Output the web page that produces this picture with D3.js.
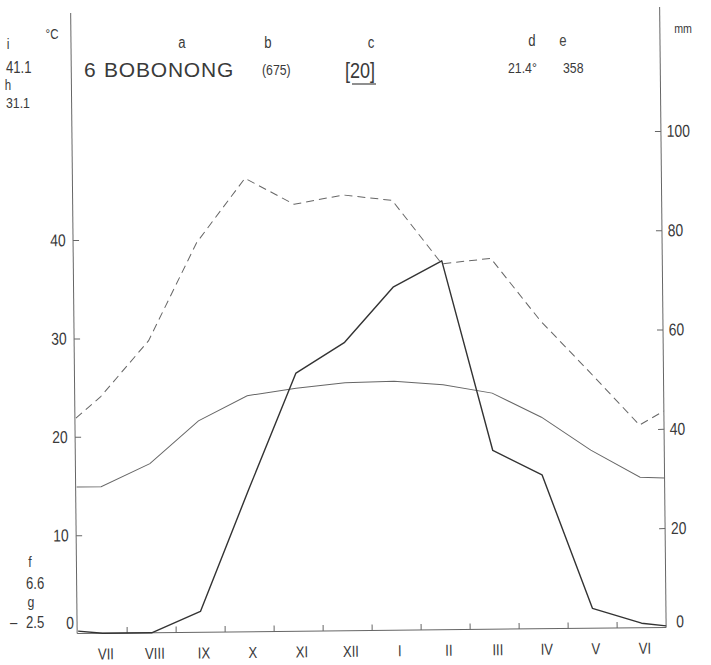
<!DOCTYPE html>
<html><head><meta charset="utf-8">
<script src="https://cdn.jsdelivr.net/npm/d3@7"></script>
<style>body{margin:0;background:#fff}</style>
</head><body>
<svg id="c" width="711" height="665"></svg>
<script>
// ---- data ----
const months = ["VII","VIII","IX","X","XI","XII","I","II","III","IV","V","VI"];
const meanTemp = [14.9,17.2,21.5,24.0,24.7,25.2,25.3,24.9,24.0,21.5,18.1,15.3];
const meanTempEdges = [14.9,15.2];
const dashedCurve = [24.0,29.7,39.6,46.1,43.4,44.3,43.7,37.2,37.7,31.3,26.0,20.6];
const dashedCurveEdges = [21.9,22.0];
const precip = [0,0,4.2,28.4,52.0,58.1,69.1,74.3,36.0,31.0,4.0,0.9];
const precipEdges = [0.5,0.3];
const tempTicks = [10,20,30,40];
const precipTicks = [20,40,60,80,100];

const FONT = "'Liberation Sans', Arial, sans-serif";
const SX = 0.82;
const INK = "#3a3a3a";
const svg = d3.select("#c");

function label(sel, x, y, s, size, anchor, opts){
  opts = opts || {};
  const t = sel.append("text")
    .attr("transform", `translate(${x},${y}) scale(${opts.sx ?? SX},1)`)
    .attr("text-anchor", anchor || "start")
    .attr("dy", "0.35em")
    .attr("font-size", size)
    .attr("font-family", FONT)
    .attr("fill", opts.fill || INK)
    .text(s);
  if (opts.ls) t.attr("letter-spacing", opts.ls);
  return t;
}

// ---- plot (scan is slightly rotated) ----
const g = svg.append("g").attr("transform", "rotate(-0.6,370,330)");
const x = d3.scaleBand().domain(months).range([75, 663]);
const xc = m => x(m) + x.bandwidth()/2;
const yT = d3.scaleLinear().domain([0,40]).range([630.5,237]);
const yP = d3.scaleLinear().domain([0,100]).range([630.5,134]);
const [x0, x1] = x.range();
const base = yT(0);
const AX = "#666";

// axes lines
g.append("line").attr("x1",74).attr("x2",74).attr("y1",10).attr("y2",base).attr("stroke",AX).attr("stroke-width",1);
g.append("line").attr("x1",663).attr("x2",663).attr("y1",10).attr("y2",base).attr("stroke",AX).attr("stroke-width",1);
g.append("line").attr("x1",74).attr("x2",663).attr("y1",base).attr("y2",base).attr("stroke",AX).attr("stroke-width",1);

// left temperature axis
const axL = g.append("g").attr("transform","translate(74,0)")
  .call(d3.axisLeft(yT).tickValues(tempTicks).tickSizeInner(-6).tickSizeOuter(0).tickPadding(9));
axL.select(".domain").remove();
axL.selectAll("line").attr("stroke",AX);
axL.selectAll("text").attr("font-size",17).attr("font-family",FONT).attr("fill",INK)
  .attr("transform",`scale(${SX},1)`);
label(g, 71, base-11, "0", 17, "end");

// right precipitation axis
const axR = g.append("g").attr("transform","translate(663,0)")
  .call(d3.axisRight(yP).tickValues(precipTicks).tickSizeInner(-6).tickSizeOuter(0).tickPadding(7));
axR.select(".domain").remove();
axR.selectAll("line").attr("stroke",AX);
axR.selectAll("text").attr("font-size",17).attr("font-family",FONT).attr("fill",INK)
  .attr("transform",`scale(${SX},1)`);
label(g, 673, base-6, "0", 17, "start");

// bottom month axis
g.selectAll(".mtick").data(months.slice(1)).join("line").attr("class","mtick")
  .attr("x1", m => x(m)).attr("x2", m => x(m)).attr("y1", base).attr("y2", base-6)
  .attr("stroke",AX);
months.forEach(m => label(g, xc(m)+3, 651, m, 16, "middle"));

// series lines
function pts(vals, edges, sc){
  return [[x0, sc(edges[0])], ...months.map((m,i)=>[xc(m), sc(vals[i])]), [x1, sc(edges[1])]];
}
const line = d3.line();
g.append("path").attr("d", line(pts(dashedCurve, dashedCurveEdges, yT)))
  .attr("fill","none").attr("stroke","#666").attr("stroke-width",1).attr("stroke-dasharray","8,5");
g.append("path").attr("d", line(pts(meanTemp, meanTempEdges, yT)))
  .attr("fill","none").attr("stroke","#666").attr("stroke-width",1);
g.append("path").attr("d", line(pts(precip, precipEdges, yP)))
  .attr("fill","none").attr("stroke","#333").attr("stroke-width",1.4).attr("stroke-linejoin","round");

// ---- header texts ----
label(svg, 52, 34, "°C", 14, "middle");
label(svg, 8, 44, "i", 15, "middle");
label(svg, 6, 67, "41.1", 16);
label(svg, 8, 85, "h", 14, "middle");
label(svg, 6, 103, "31.1", 15);

label(svg, 182, 42, "a", 16, "middle");
label(svg, 268, 42, "b", 16, "middle");
label(svg, 371, 42, "c", 16, "middle");
label(svg, 532, 40, "d", 16, "middle");
label(svg, 563, 40, "e", 16, "middle", {fill:"#444"});
label(svg, 683, 28, "mm", 13, "middle");

label(svg, 84, 70, "6", 21, "start", {sx:1});
label(svg, 104, 70, "BOBONONG", 21, "start", {sx:1, ls:0.8});
label(svg, 262, 70, "(675)", 15);
label(svg, 345, 70, "[20]", 22);
svg.append("line").attr("x1",352).attr("x2",376).attr("y1",84).attr("y2",84).attr("stroke","#444").attr("stroke-width",1.2);
label(svg, 508, 68, "21.4°", 15);
label(svg, 563, 68, "358", 15);

// bottom-left texts
label(svg, 30, 562, "f", 15, "middle");
label(svg, 26, 583, "6.6", 16);
label(svg, 31, 602, "g", 15, "middle");
label(svg, 10, 622, "–", 16);
label(svg, 26, 622, "2.5", 16);
</script>
</body></html>
